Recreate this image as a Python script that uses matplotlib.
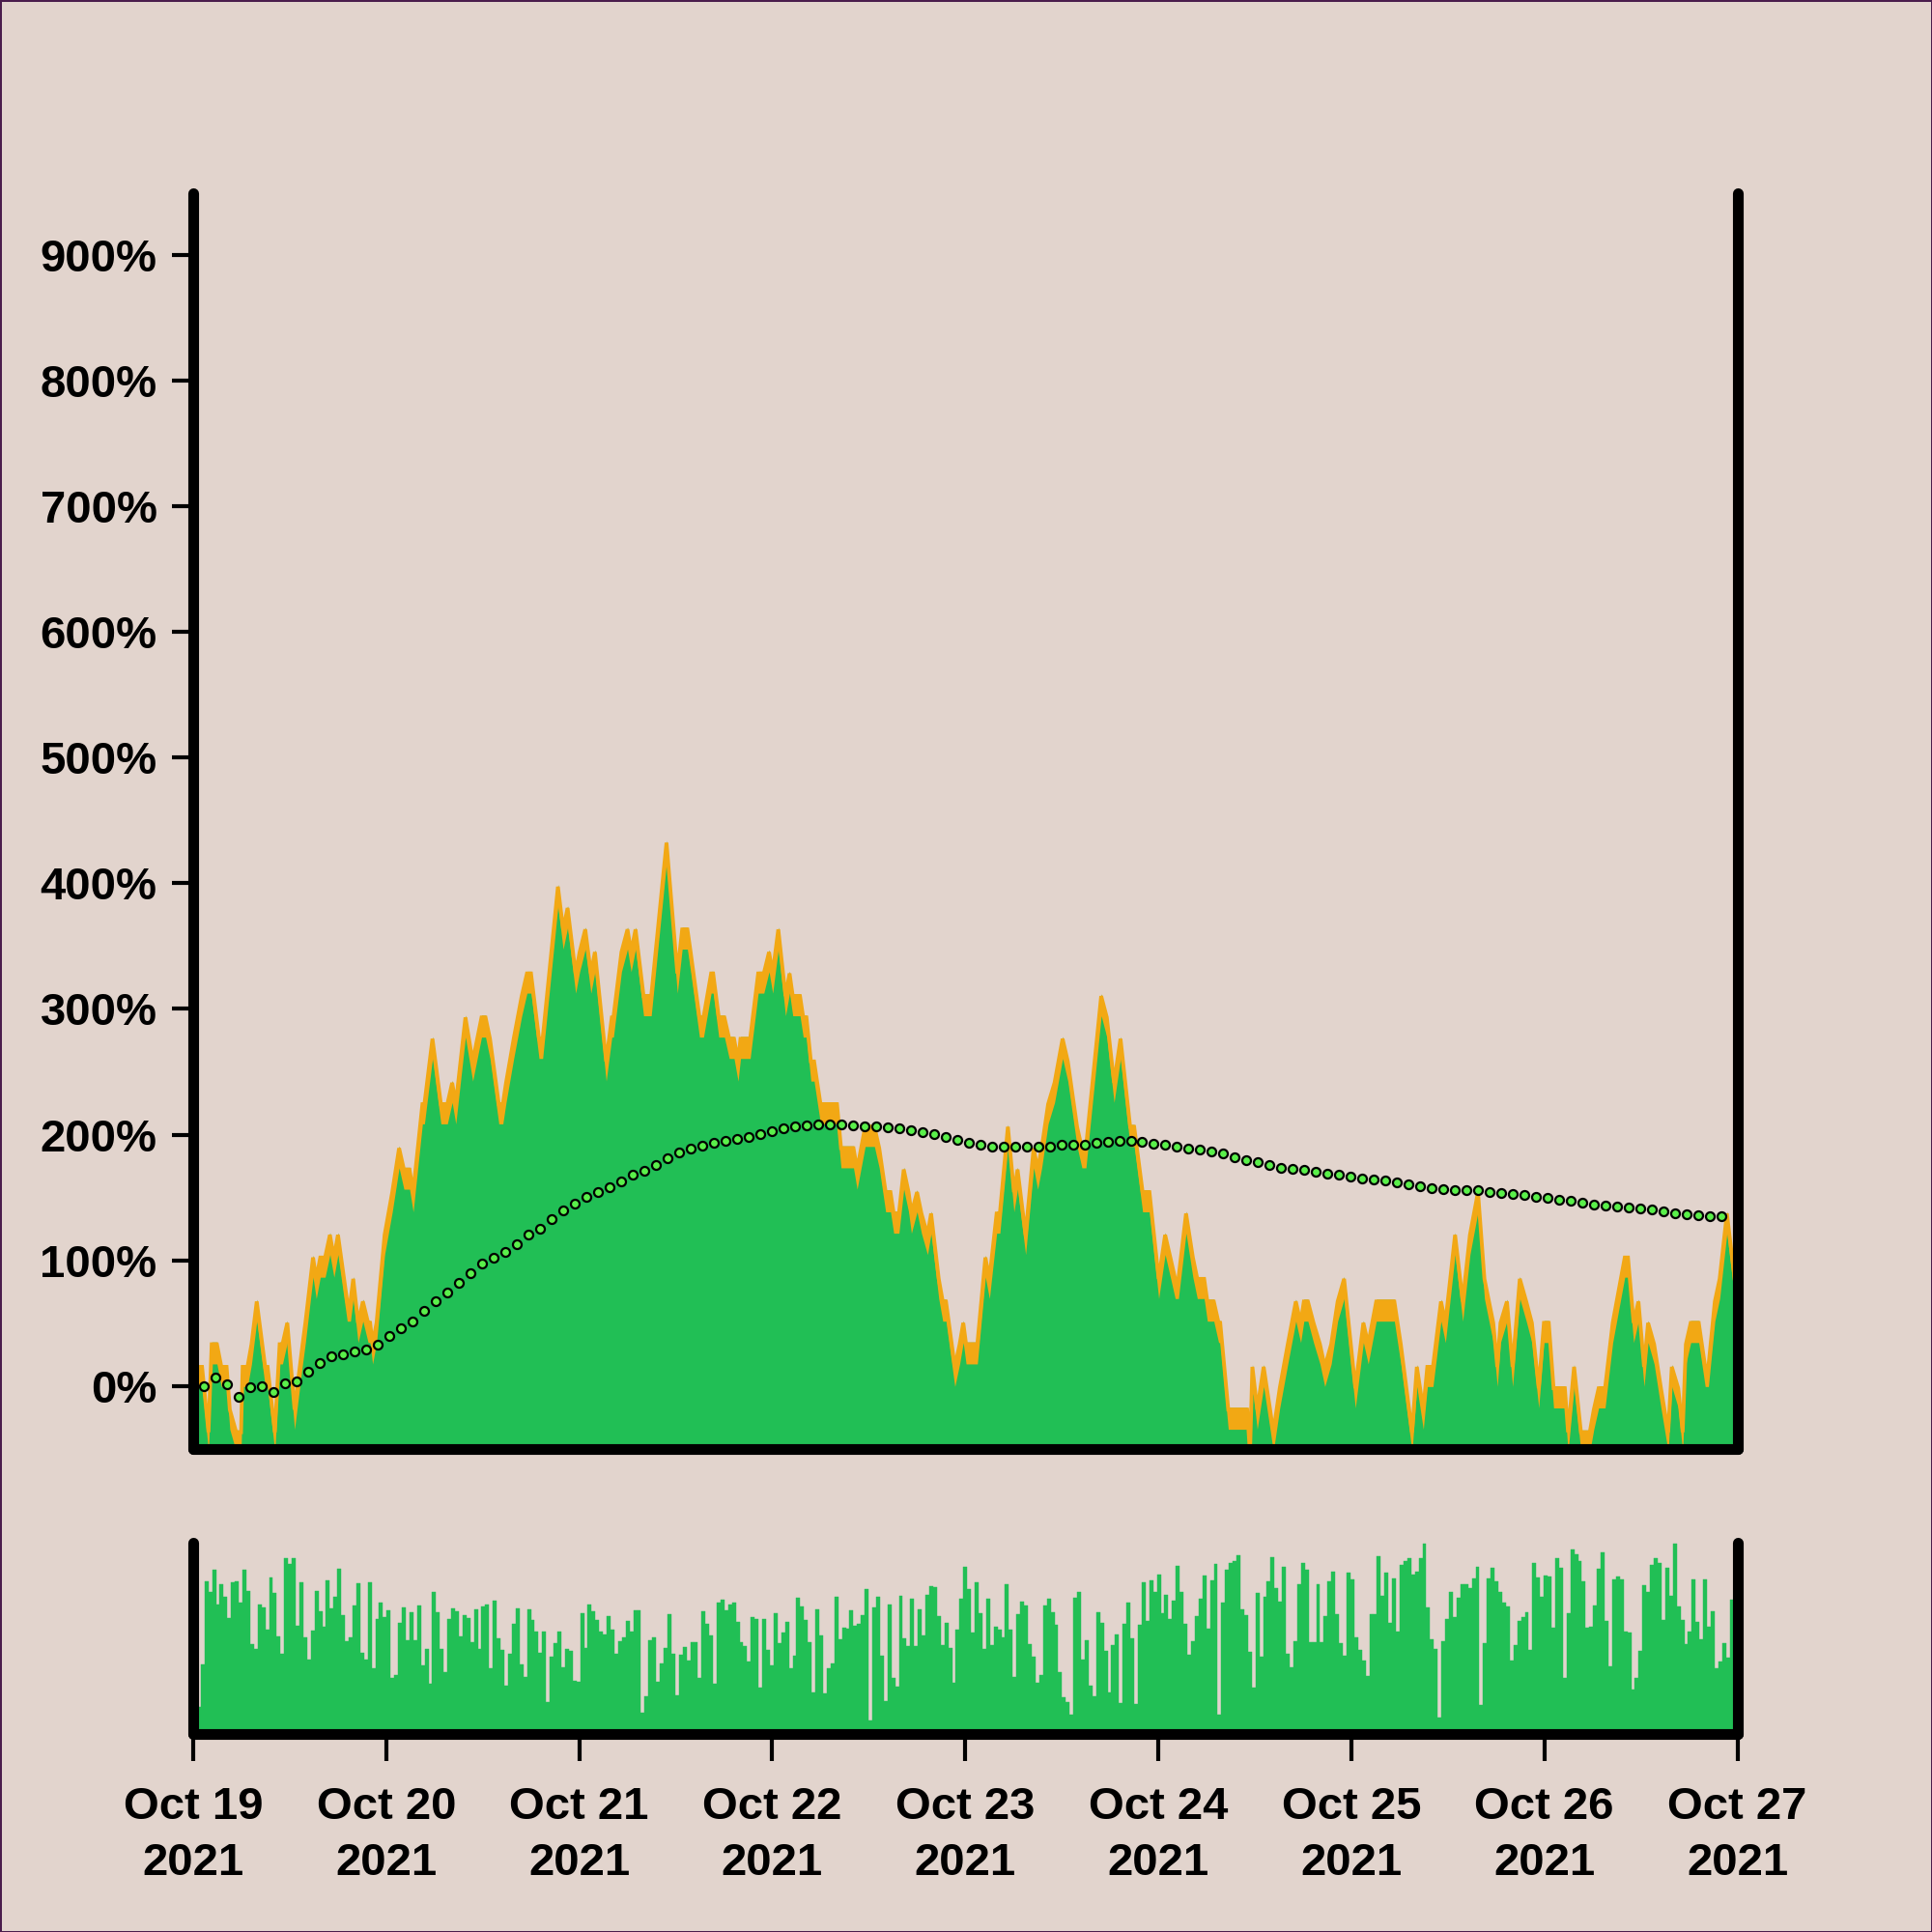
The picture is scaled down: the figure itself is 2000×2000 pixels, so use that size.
import numpy as np
import matplotlib
matplotlib.use("Agg")
import matplotlib.pyplot as plt
import matplotlib.dates as mdates
from datetime import datetime

BG = "#E2D4CD"
GREEN = "#21BF55"
ORANGE = "#F2A814"
DOT = "#5AF04A"

start = datetime(2021, 10, 19)
days = 8

# price change vs. first sample, vertices
# step = half-hour steps since Oct 19 00:00, pct = change in %
step = [0, 2.2, 3.8, 4.6, 5.9, 7, 8.3, 9.1, 10.7, 11.9, 12.3, 13.5, 14.5, 15.8, 17.9, 18.5, 20.3, 21.5, 22.2, 23.4,
        25.2, 27.2, 27.9, 29.8, 30.6, 31.6, 32.8, 34, 35, 36, 38.3, 39.1, 39.8, 41, 42.2, 43.5, 44, 44.6, 45.6, 47.6,
        49.5, 51.2, 52.4, 53.8, 54.7, 57, 57.5, 59.5, 61.6, 63.2, 64.4, 65.3, 67.7, 69.5, 71.7, 72.7, 73.8, 76, 77, 77.8,
        79.7, 81.7, 83, 84, 86, 86.9, 90.7, 92, 93.1, 95.1, 96.1, 97.5, 98.9, 99.9, 102.7, 104.1, 104.5, 106.5, 108, 108.9,
        110, 112, 113.9, 117.7, 120.4, 121.6, 122.9, 123.7, 125.9, 126.9, 128.8, 129.3, 130.7, 132.1, 133.3, 134.5, 135.5, 136.1, 138.5, 140.5,
        141.9, 143.2, 144.1, 145.5, 147.3, 148.3, 149.1, 150.9, 151.7, 152.5, 153.6, 154.4, 155.2, 156, 160.1, 161.1, 164.2, 165.1, 167.1, 169.4,
        170.6, 172.2, 173.4, 174.2, 175.5, 176.7, 177.9, 178.6, 180, 181.1, 182.6, 183.5, 185.4, 186.4, 187.2, 189.4, 190.6, 191.5, 192.2, 195,
        197, 198, 199.8, 200.6, 202.6, 204.1, 205, 207, 209, 210, 211, 212.6, 214.2, 216.2, 217.5, 219.8, 221, 222, 225.8, 227.2,
        229, 230.6, 233, 234, 236.1, 237.8, 240.1, 241.7, 243, 244.2, 245, 246.9, 248.6, 249.7, 251.4, 252.2, 253.8, 255, 255.4, 257.4,
        262.1, 262.8, 263.4, 264.6, 266.2, 267.8, 268.6, 270.2, 272.2, 274.2, 275.4, 276.2, 277.2, 278.6, 280.2, 281.4, 283, 284.6, 286.2, 289,
        291, 292.2, 294.2, 298.7, 300.3, 303.1, 304.3, 305.9, 306.9, 308.3, 310.3, 311.4, 313.8, 315.7, 317.5, 319.5, 321.1, 323.3, 324.3, 325.1,
        326.7, 328.1, 329.9, 331.5, 332.9, 334.6, 335.9, 337.1, 338.3, 341.1, 341.9, 343.4, 345.1, 347.3, 348.3, 349.5, 351.1, 353, 356, 356.8,
        358.2, 359.4, 360.8, 361.8, 363.3, 365, 366.8, 367.7, 369.3, 370.4, 371.2, 372.4, 374.4, 376, 376.8, 378.4, 379.6, 381.4, 384]
pct = [17, 17, -35, 35, 35, 17, 17, -17, -35, -35, 17, 17, 35, 69, 17, 17, -35, 35, 35, 52,
       -17, 35, 52, 104, 87, 104, 104, 122, 104, 122, 69, 69, 87, 52, 69, 52, 52, 35, 52, 122,
       156, 191, 174, 174, 156, 226, 226, 278, 226, 226, 243, 226, 295, 260, 295, 295, 278, 226, 226, 243,
       278, 312, 330, 330, 278, 278, 399, 365, 382, 330, 347, 365, 330, 347, 260, 295, 295, 347, 365, 347,
       365, 312, 312, 434, 330, 365, 365, 347, 295, 295, 330, 330, 295, 295, 278, 278, 260, 278, 278, 330,
       330, 347, 330, 365, 312, 330, 312, 312, 295, 295, 260, 260, 243, 226, 226, 191, 191, 174, 208, 208,
       191, 156, 156, 139, 139, 174, 156, 139, 156, 139, 122, 139, 87, 69, 69, 17, 35, 52, 35, 35,
       104, 87, 139, 139, 208, 156, 174, 122, 191, 174, 191, 226, 243, 278, 260, 208, 191, 191, 312, 295,
       243, 278, 208, 208, 156, 156, 87, 122, 104, 87, 87, 139, 104, 87, 87, 69, 69, 52, 52, -17,
       -17, -52, 17, -17, 17, -17, -35, 0, 35, 69, 52, 69, 69, 52, 35, 17, 35, 69, 87, 0,
       52, 35, 69, 69, 35, -35, 17, -17, 17, 17, 69, 52, 122, 69, 122, 156, 87, 52, 17, 52,
       69, 17, 87, 69, 52, 0, 52, 52, 0, 0, -35, 17, -35, -35, -17, 0, 0, 52, 104, 104,
       52, 69, 17, 52, 35, 0, -35, 17, 0, -35, 35, 52, 52, 17, 17, 69, 87, 139, 69]
band = 17.4  # one price tick, in %

# moving average dots
ma_start_h = 1.37
ma_step_h = 1.44
ma_pct = [0, 6.8, 1.4, -8.8, -0.8, -0.2, -4.6, 2.1, 3.7, 11.6, 18, 23.7, 25.6, 27.5, 29.4, 32.9, 39.6, 46, 51.4, 60,
          67.6, 74.3, 82.3, 89.6, 97.6, 102.3, 106.5, 113.1, 120.5, 124.9, 132.6, 139.6, 145, 150.4,
          154.5, 158.3, 162.8, 168.2, 171.4, 176.2, 181.3, 185.7, 188.9, 191.1, 193.7, 195.3, 196.5, 197.8, 200.4, 202.9,
          204.8, 206.4, 207.7, 208, 208.3, 208, 207.1, 206.7, 206.4, 205.8, 204.8, 203.5, 202.3, 200.7, 198.5, 195.6, 193.3,
          191.8, 190.8, 190.4, 190.8, 190.2, 190.2, 190.8, 191.8, 192.1, 192.1, 193.3, 194, 194.9, 194.9, 194.3, 193,
          192.1, 190.8, 189.2, 188, 187, 184.8, 182.2, 180, 178.1, 175.9, 173.9, 173, 172, 170.4, 169.2, 168.2, 166.6,
          165.3, 164.4, 163.4, 162.2, 160.6, 159, 157.7, 156.7, 156.1, 155.8, 155.5, 154.5, 153.6, 152.6, 152, 150.7,
          149.7, 148.5, 147.2, 145.9, 144.3, 143.4, 142.7, 142.1, 141.5, 140.5, 138.9, 137.7, 136.7, 136.1, 135.4, 135.4]

# volume (arbitrary units)
volume = [507, 70, 202, 460, 427, 495, 388, 450, 412, 345, 455, 460, 392, 495, 430, 264, 250, 388, 377, 310,
          470, 423, 288, 233, 530, 514, 530, 322, 457, 285, 217, 307, 428, 367, 317, 462, 374, 410, 499, 355,
          272, 285, 385, 453, 237, 216, 455, 188, 342, 392, 348, 368, 160, 168, 330, 377, 275, 363, 275, 385,
          198, 250, 142, 425, 364, 248, 178, 342, 375, 365, 287, 355, 345, 270, 372, 250, 382, 387, 190, 400,
          282, 245, 135, 235, 328, 375, 202, 163, 372, 339, 303, 238, 303, 84, 224, 267, 303, 192, 248, 244,
          150, 147, 360, 252, 387, 365, 340, 304, 294, 352, 310, 233, 272, 284, 335, 303, 368, 368, 50, 103,
          275, 285, 147, 203, 252, 356, 235, 105, 230, 255, 214, 270, 270, 159, 365, 328, 290, 140, 393, 403,
          368, 386, 392, 332, 270, 258, 210, 347, 342, 128, 342, 245, 198, 360, 266, 300, 332, 188, 227, 408,
          380, 338, 270, 115, 372, 290, 110, 190, 203, 412, 280, 315, 312, 368, 320, 328, 354, 435, 28, 378,
          410, 227, 87, 388, 158, 132, 415, 283, 257, 405, 259, 372, 292, 416, 444, 442, 352, 262, 329, 251,
          145, 310, 405, 503, 435, 300, 455, 360, 250, 405,
          262, 318, 308, 285, 450, 308, 162, 357, 395, 385, 265, 225, 145, 167, 384, 404, 362, 324, 177, 100,
          83, 45, 407, 425, 217, 277, 135, 103, 362, 330, 244, 115, 260, 294, 82, 327, 392, 282, 78, 325,
          455, 335, 462, 425, 480, 360, 418, 343, 400, 507, 425, 327, 232, 274, 352, 405, 477, 313, 463, 512,
          45, 392, 495, 515, 522, 540, 372, 355, 240, 130, 422, 225, 410, 460, 535, 438, 397, 503, 235, 192,
          274, 450, 517, 495, 270, 270, 450, 270, 352, 460, 490, 358, 267, 228, 485, 465, 285, 247, 213, 164,
          357, 357, 538, 415, 486, 330, 468, 303, 510, 522, 530, 480, 488, 530, 575, 379, 280, 250, 35, 274,
          343, 427, 347, 408, 450, 450, 437, 468, 505, 75, 266, 468, 500, 458, 425, 393, 382, 213, 260, 335,
          347, 362, 247, 516, 470, 412, 478, 473, 315, 532, 502, 160, 360, 558, 543, 522, 458, 316, 317, 385,
          497, 550, 335, 196, 465, 475, 465, 302, 300, 123, 160, 242, 448, 425, 510, 530, 516, 340, 500, 415,
          575, 380, 338, 265, 302, 465, 332, 280, 465, 317, 365, 190, 210, 267, 222, 403, 422]

yticks = [0, 100, 200, 300, 400, 500, 600, 700, 800, 900]

plt.rcParams["font.family"] = ["Liberation Sans", "DejaVu Sans"]
plt.rcParams["font.weight"] = "bold"

fig = plt.figure(figsize=(20, 20), dpi=100, facecolor=BG, edgecolor="#4a1d4c", linewidth=2)
ax = fig.add_axes([0.1, 0.25025, 0.79925, 0.64975])
axv = fig.add_axes([0.1, 0.1025, 0.79925, 0.099], sharex=ax)

t0 = mdates.date2num(start)
t = t0 + np.array(step) / 48.0
y = np.array(pct, dtype=float)

# price area with the orange one-tick band on top
ax.fill_between(t, -200, y, color=GREEN, lw=0, zorder=2)
ax.fill_between(t, y - band, y, color=ORANGE, lw=0, zorder=3)
ax.plot(t, y - band * 0.1, color=ORANGE, lw=2.8, solid_joinstyle="miter", zorder=3)

tm = t0 + (ma_start_h + np.arange(len(ma_pct)) * ma_step_h) / 24.0
ax.plot(tm, ma_pct, ls="none", marker="o", ms=6.5, mfc=DOT, mec="black", mew=1.6, zorder=5)

n = len(volume)
w = days / n
tb = t0 + np.arange(n) * w
axv.bar(tb, volume, width=w, align="edge", color=GREEN, edgecolor=GREEN, lw=0.3)

for a in (ax, axv):
    a.set_facecolor("none")
    a.spines["top"].set_visible(False)
    for s in ("left", "right", "bottom"):
        a.spines[s].set_linewidth(8)
        a.spines[s].set_color("black")
        a.spines[s].set_capstyle("round")
        a.spines[s].set_zorder(10)

ax.set_xlim(t0, t0 + days)
ax.set_ylim(-49.7, 949)
axv.set_ylim(-15, 579)

ax.set_yticks(yticks)
ax.set_yticklabels([f"{v}%" for v in yticks])
ax.tick_params(axis="y", length=16, width=3, pad=11, labelsize=34, color="black")
ax.tick_params(axis="x", bottom=False, labelbottom=False)

axv.set_yticks([])
axv.xaxis.set_major_locator(mdates.DayLocator())
axv.xaxis.set_major_formatter(mdates.DateFormatter("%b %d\n%Y"))
axv.tick_params(axis="x", length=20, width=3, pad=19, labelsize=34, color="black")
for lbl in axv.get_xticklabels():
    lbl.set_fontweight("bold")
    lbl.set_linespacing(1.4)

fig.savefig("out.png", dpi=100, facecolor=BG, edgecolor=fig.get_edgecolor())
